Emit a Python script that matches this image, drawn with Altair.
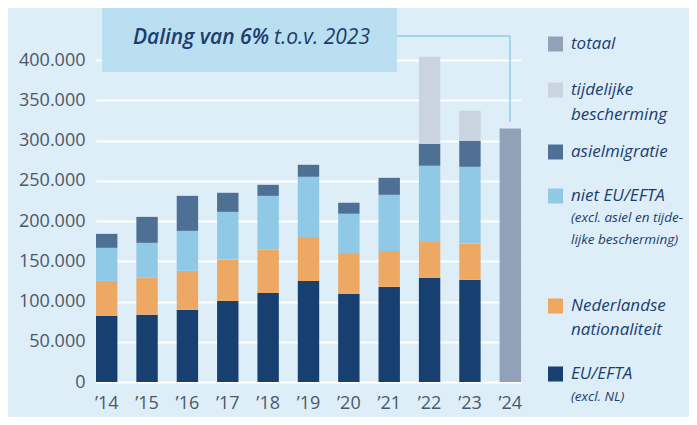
import altair as alt
import pandas as pd

years = ["’14", "’15", "’16", "’17", "’18", "’19", "’20", "’21", "’22", "’23", "’24"]
categories = ["EU/EFTA", "Nederlandse nationaliteit", "niet EU/EFTA", "asielmigratie",
              "tijdelijke bescherming", "totaal"]
colors = ["#173f6f", "#eda863", "#8fc9e6", "#4e7095", "#c9d4e0", "#91a2b8"]

eu_efta = [82100, 83700, 89600, 100700, 110700, 125600, 109500, 118200, 129400, 126900, None]
nederlands = [43500, 46000, 48500, 51400, 53900, 54700, 50900, 44700, 44700, 45100, None]
niet_eu = [41100, 43200, 49700, 59300, 66700, 74700, 48600, 69700, 94600, 95400, None]
asiel = [17400, 32300, 43500, 23700, 13700, 14900, 13600, 21100, 27300, 32400, None]
tijdelijk = [None, None, None, None, None, None, None, None, 108200, 37300, None]
totaal = [None, None, None, None, None, None, None, None, None, None, 315000]

y_ticks = [0, 50000, 100000, 150000, 200000, 250000, 300000, 350000, 400000]

series = [eu_efta, nederlands, niet_eu, asiel, tijdelijk, totaal]
rows = []
for ci, (cat, vals) in enumerate(zip(categories, series)):
    for yr, v in zip(years, vals):
        if v is not None:
            rows.append({"jaar": yr, "cat": cat, "waarde": v, "idx": ci})
df = pd.DataFrame(rows)

NAVY = "#1c3d6e"
GREY = "#4b5868"
FONT = "Open Sans"

bars = alt.Chart(df).mark_bar().encode(
    x=alt.X("jaar:N", sort=years,
            scale=alt.Scale(paddingInner=0.47, paddingOuter=0),
            axis=alt.Axis(title=None, labelAngle=0, ticks=False, domain=False,
                          labelFontSize=18, labelColor=GREY, labelFont=FONT,
                          labelPadding=12)),
    y=alt.Y("waarde:Q", stack="zero",
            scale=alt.Scale(domain=[0, 420000], nice=False),
            axis=alt.Axis(title=None, values=y_ticks, ticks=False, domain=False,
                          gridColor="white", gridWidth=2, gridOpacity=1,
                          labelFontSize=18, labelColor=GREY, labelFont=FONT,
                          labelPadding=11,
                          labelExpr="datum.value == 0 ? '0' : format(datum.value/1000, 'd') + '.000'")),
    color=alt.Color("cat:N", scale=alt.Scale(domain=categories, range=colors), legend=None),
    order=alt.Order("idx:Q"),
)

one = pd.DataFrame({"a": [0]})

box = alt.Chart(one).mark_rect(color="#badff0").encode(
    x=alt.value(6), x2=alt.value(301), y=alt.value(-41), y2=alt.value(28))
conn_h = alt.Chart(one).mark_rule(color="#8fcde8", strokeWidth=1.5).encode(
    x=alt.value(301), x2=alt.value(414), y=alt.value(-8))
conn_v = alt.Chart(one).mark_rule(color="#8fcde8", strokeWidth=1.5).encode(
    x=alt.value(414), y=alt.value(-8), y2=alt.value(78))
txt_bold = alt.Chart(one).mark_text(
    text="Daling van 6%", align="right", baseline="alphabetic", font=FONT,
    fontStyle="italic", fontWeight=600, fontSize=21, color=NAVY
).encode(x=alt.value(173), y=alt.value(0))
txt_norm = alt.Chart(one).mark_text(
    text="t.o.v. 2023", align="left", baseline="alphabetic", font=FONT,
    fontStyle="italic", fontSize=21, color=NAVY
).encode(x=alt.value(178), y=alt.value(0))

legend_items = [
    ("totaal", 0),
    ("tijdelijke bescherming", 46),
    ("asielmigratie", 108),
    ("niet EU/EFTA", 152),
    ("Nederlandse nationaliteit", 262),
    ("EU/EFTA", 330),
]
legend_lines = [
    ("totaal", 0, 17),
    ("tijdelijke", 46, 17),
    ("bescherming", 71, 17),
    ("asielmigratie", 108, 17),
    ("niet EU/EFTA", 152, 17),
    ("(excl. asiel en tijde-", 174, 13.5),
    ("lijke bescherming)", 196, 13.5),
    ("Nederlandse", 262, 17),
    ("nationaliteit", 286, 17),
    ("EU/EFTA", 330, 17),
    ("(excl. NL)", 353, 13.5),
]
layers = [bars, box, conn_h, conn_v, txt_bold, txt_norm]
for cat, dy in legend_items:
    col = colors[categories.index(cat)]
    layers.append(alt.Chart(one).mark_rect(color=col).encode(
        x=alt.value(452), x2=alt.value(467),
        y=alt.value(dy - 7.5), y2=alt.value(dy + 7.5)))
for line, dy, fs in legend_lines:
    layers.append(alt.Chart(one).mark_text(
        text=line, align="left", baseline="middle", font=FONT, fontStyle="italic",
        fontSize=fs, color=NAVY).encode(x=alt.value(475), y=alt.value(dy)))

chart = alt.layer(*layers).properties(
    width=425, height=338,
    autosize=alt.AutoSizeParams(type="none"),
    padding={"left": 88, "top": 36, "right": 168, "bottom": 35},
    background="#ddeef8",
).configure_view(stroke=None)

chart.save("out.html", embed_options={"renderer": "svg", "actions": False})
